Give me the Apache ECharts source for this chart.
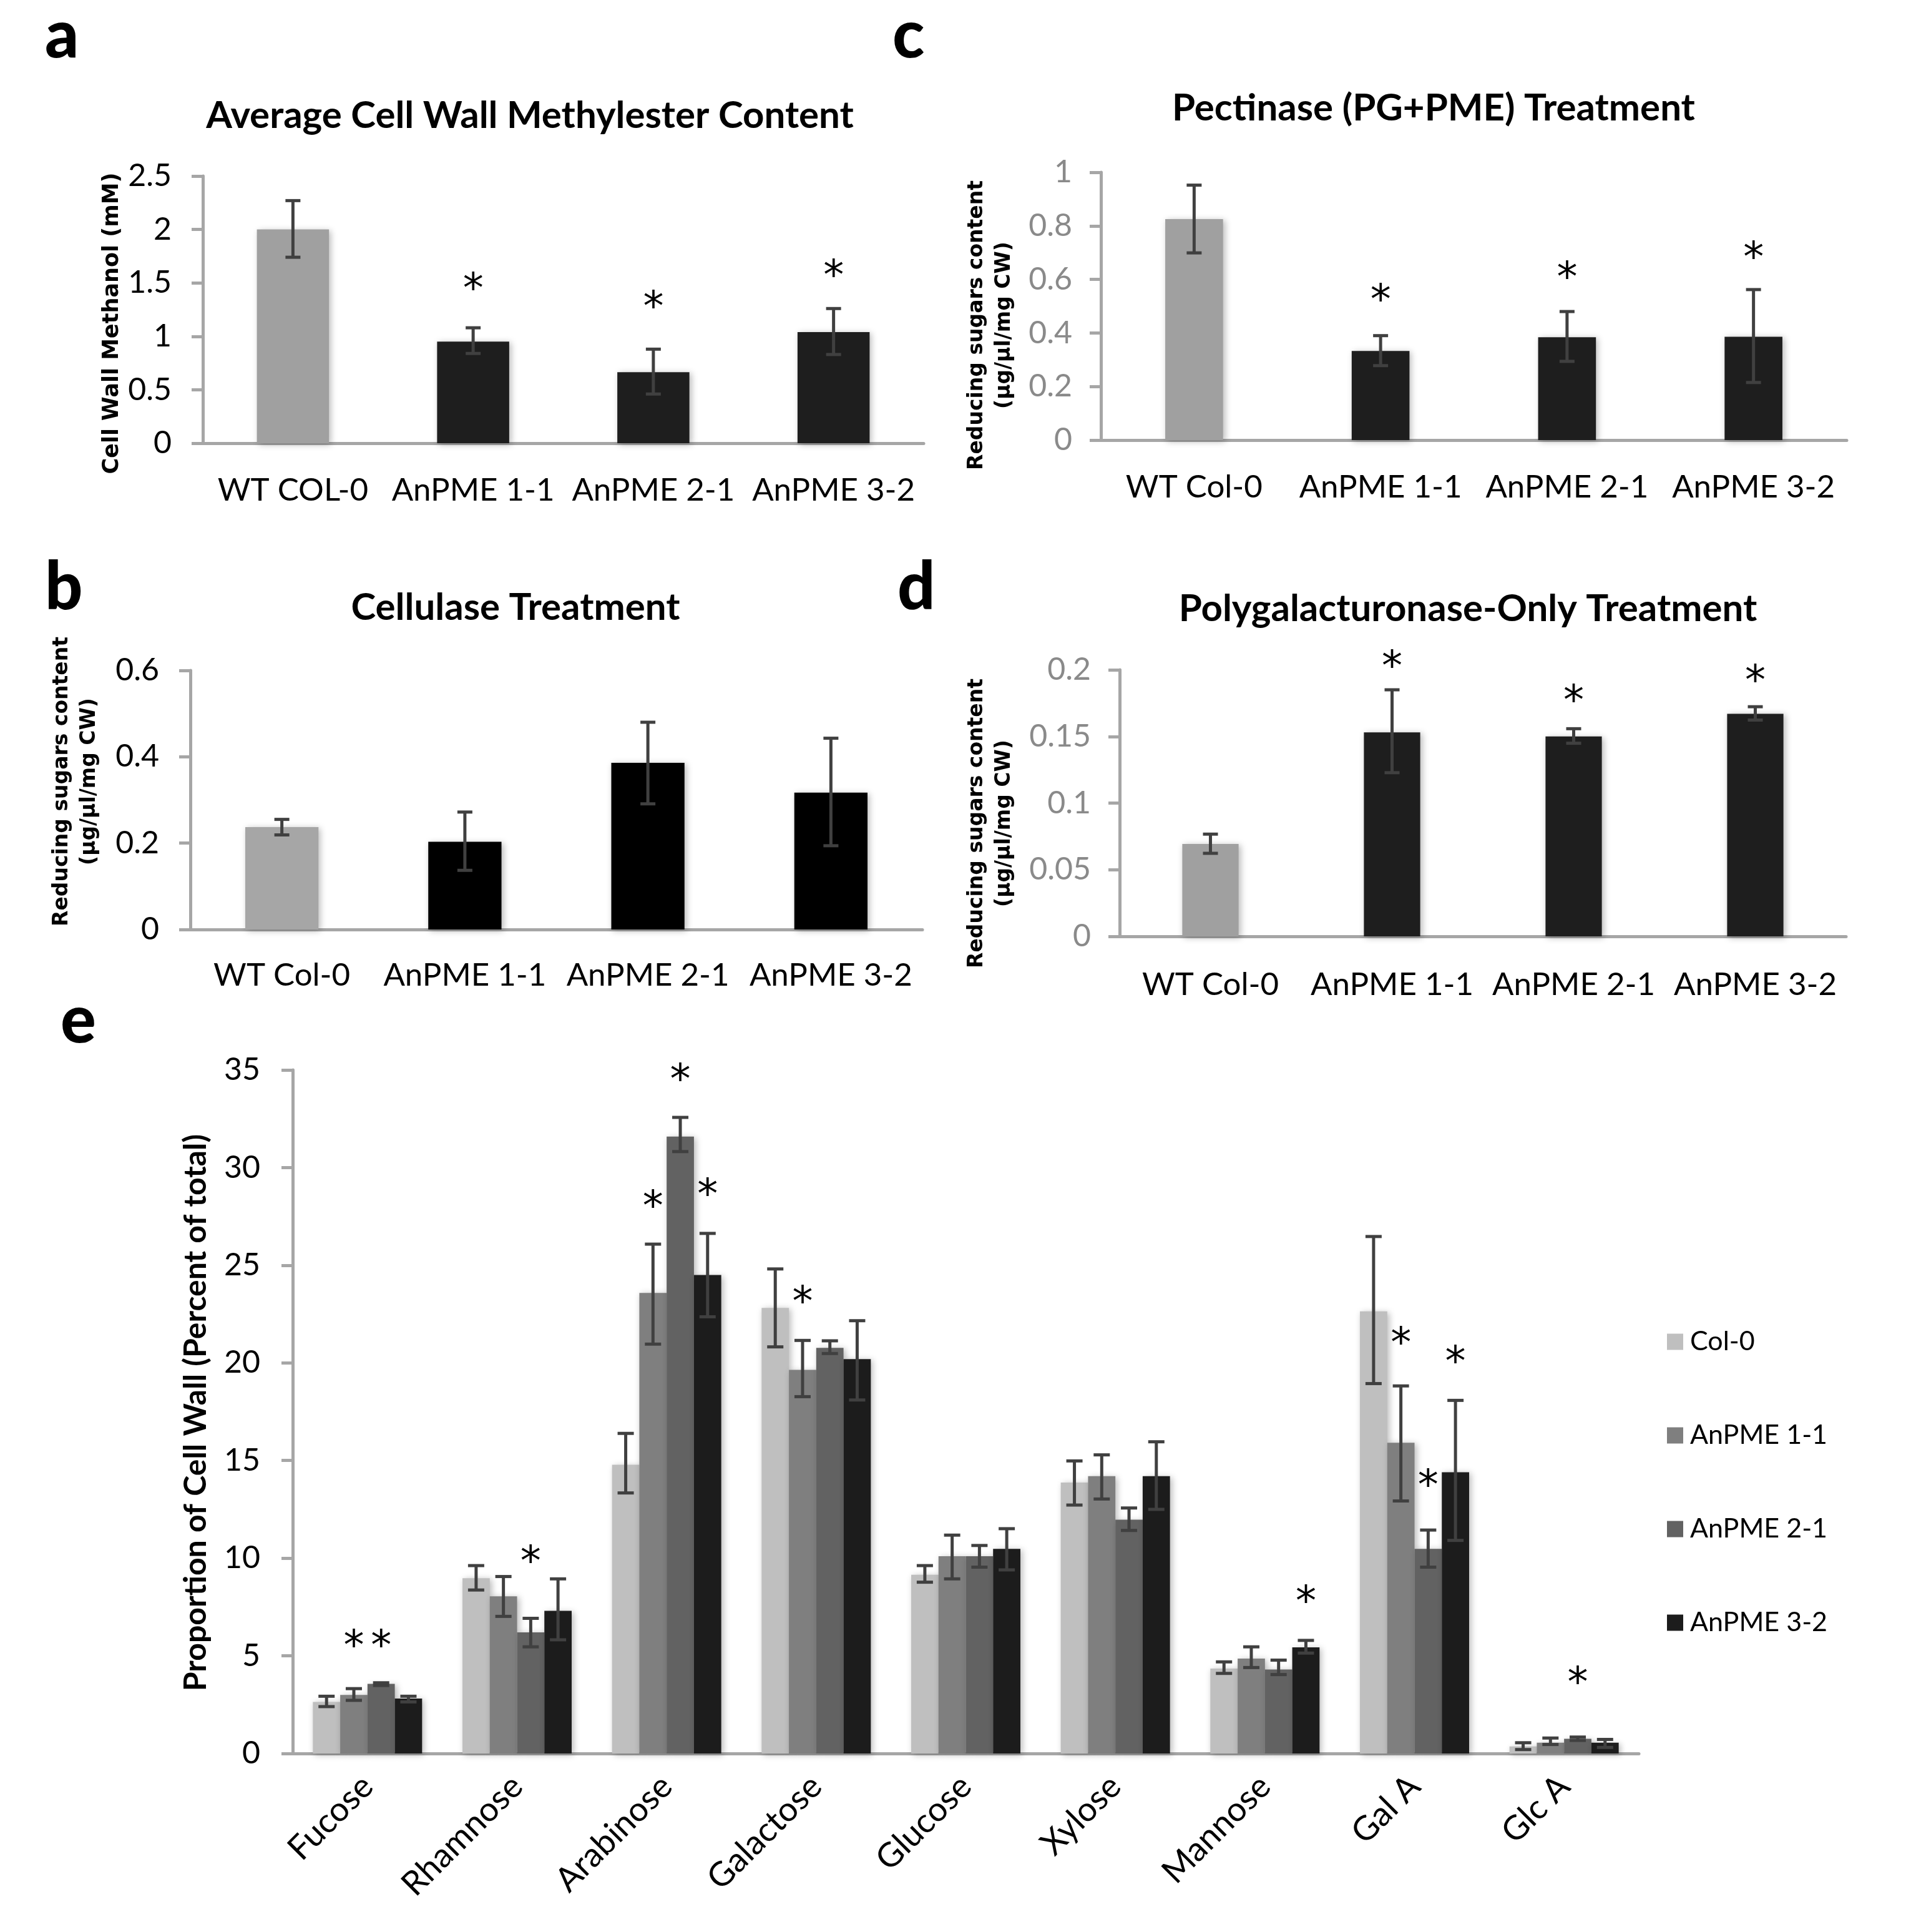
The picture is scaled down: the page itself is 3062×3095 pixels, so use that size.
<!DOCTYPE html>
<html>
<head>
<meta charset="utf-8">
<script src="https://cdn.jsdelivr.net/npm/echarts@6/dist/echarts.min.js"></script>
<style>
html,body{margin:0;padding:0;background:#fff;}
#chart{width:3062px;height:3095px;}
</style>
</head>
<body>
<div id="chart"></div>
<script>
// ---------- DATA ----------
// Panel a: Average Cell Wall Methylester Content
const catsA = ['WT COL-0', 'AnPME 1-1', 'AnPME 2-1', 'AnPME 3-2'];
const meanA = [2.0, 0.95, 0.665, 1.04];
const lowA  = [1.74, 0.84, 0.46, 0.83];
const highA = [2.27, 1.08, 0.88, 1.26];
const starA = [null, 1.5, 1.33, 1.62];

// Panel b: Cellulase Treatment
const catsB = ['WT Col-0', 'AnPME 1-1', 'AnPME 2-1', 'AnPME 3-2'];
const meanB = [0.237, 0.203, 0.386, 0.317];
const lowB  = [0.219, 0.137, 0.291, 0.194];
const highB = [0.255, 0.272, 0.48, 0.443];

// Panel c: Pectinase (PG+PME) Treatment
const catsC = ['WT Col-0', 'AnPME 1-1', 'AnPME 2-1', 'AnPME 3-2'];
const meanC = [0.825, 0.333, 0.384, 0.386];
const lowC  = [0.699, 0.278, 0.294, 0.215];
const highC = [0.952, 0.39, 0.48, 0.562];
const starC = [null, 0.544, 0.627, 0.702];

// Panel d: Polygalacturonase-Only Treatment
const catsD = ['WT Col-0', 'AnPME 1-1', 'AnPME 2-1', 'AnPME 3-2'];
const meanD = [0.0693, 0.153, 0.150, 0.167];
const lowD  = [0.0623, 0.1228, 0.1449, 0.1623];
const highD = [0.0767, 0.185, 0.1558, 0.1723];
const starD = [null, 0.2065, 0.181, 0.196];

// Panel e: monosaccharide composition
const sugars = ['Fucose', 'Rhamnose', 'Arabinose', 'Galactose', 'Glucose', 'Xylose', 'Mannose', 'Gal A', 'Glc A'];
const seriesNames = ['Col-0', 'AnPME 1-1', 'AnPME 2-1', 'AnPME 3-2'];
const col0   = [2.64, 8.97, 14.78, 22.81, 9.15, 13.87, 4.35, 22.64, 0.36];
const col0Lo = [2.40, 8.37, 13.34, 20.82, 8.77, 12.72, 4.10, 18.94, 0.20];
const col0Hi = [2.93, 9.62, 16.39, 24.81, 9.62, 14.98, 4.69, 26.47, 0.55];
const p11    = [3.00, 8.05, 23.58, 19.64, 10.10, 14.20, 4.86, 15.91, 0.55];
const p11Lo  = [2.72, 7.02, 20.96, 18.27, 8.94, 13.03, 4.40, 12.93, 0.46];
const p11Hi  = [3.32, 9.06, 26.08, 21.15, 11.18, 15.29, 5.46, 18.82, 0.79];
const p21    = [3.56, 6.20, 31.59, 20.77, 10.10, 11.97, 4.30, 10.48, 0.75];
const p21Lo  = [3.48, 5.46, 30.82, 20.48, 9.54, 11.42, 4.04, 9.54, 0.67];
const p21Hi  = [3.62, 6.92, 32.57, 21.13, 10.65, 12.57, 4.78, 11.44, 0.84];
const p32    = [2.81, 7.30, 24.50, 20.19, 10.48, 14.20, 5.43, 14.40, 0.55];
const p32Lo  = [2.64, 5.82, 22.36, 18.10, 9.40, 12.50, 5.14, 10.91, 0.31];
const p32Hi  = [2.93, 8.94, 26.63, 22.16, 11.51, 15.96, 5.79, 18.08, 0.72];
const star11 = [5.8, null, 28.3, 23.4, null, null, null, 21.3, null];
const star21 = [5.8, 10.1, 34.8, null, null, null, null, 14.0, 3.9];
const star32 = [null, null, 28.9, null, null, null, 8.06, 20.35, null];

// ---------- STYLE ----------
const AX = '#a6a6a6';
const ERR = '#404040';
const FONT = 'Lato';
const LBLFONT = 'DejaVu Sans';
const shadow = {shadowBlur: 10, shadowColor: 'rgba(0,0,0,0.28)', shadowOffsetX: 3, shadowOffsetY: 2};
const eColors = ['#bfbfbf', '#7f7f7f', '#626262', '#1c1c1c'];
const GAP_E = 0.27;

const chart = echarts.init(document.getElementById('chart'), null, {renderer: 'canvas'});

function mkX(gi, cats, fs, margin, rotate) {
  return {
    type: 'category', gridIndex: gi, data: cats,
    axisLine: {lineStyle: {color: AX, width: 5}},
    axisTick: {length: 18, lineStyle: {color: AX, width: 5}},
    axisLabel: {fontFamily: FONT, fontSize: fs, color: '#000', margin: margin, rotate: rotate || 0, interval: 0}
  };
}
function mkY(gi, max, interval, color, margin, fs) {
  return {
    type: 'value', gridIndex: gi, min: 0, max: max, interval: interval,
    axisLine: {show: true, lineStyle: {color: AX, width: 5}},
    axisTick: {show: true, length: 18, lineStyle: {color: AX, width: 5}},
    splitLine: {show: false},
    axisLabel: {fontFamily: FONT, fontSize: fs, color: color, margin: margin}
  };
}

function errRender(k, n, capHalf) {
  return function (params, api) {
    const i = api.value(0);
    let x = api.coord([i, 0])[0];
    if (n > 1) {
      const bw = api.size([1, 0])[0] * (1 - GAP_E) / n;
      x += (k - (n - 1) / 2) * bw;
    }
    const lo = api.coord([i, api.value(1)])[1];
    const hi = api.coord([i, api.value(2)])[1];
    const st = {stroke: ERR, lineWidth: 5};
    return {
      type: 'group',
      children: [
        {type: 'line', shape: {x1: x, y1: lo, x2: x, y2: hi}, style: st},
        {type: 'line', shape: {x1: x - capHalf, y1: lo, x2: x + capHalf, y2: lo}, style: st},
        {type: 'line', shape: {x1: x - capHalf, y1: hi, x2: x + capHalf, y2: hi}, style: st}
      ]
    };
  };
}
const STAR_FS = 66;
function starRender(k, n) {
  return function (params, api) {
    const i = api.value(0);
    let x = api.coord([i, 0])[0];
    if (n > 1) {
      const bw = api.size([1, 0])[0] * (1 - GAP_E) / n;
      x += (k - (n - 1) / 2) * bw;
    }
    const y = api.coord([i, api.value(1)])[1];
    return {
      type: 'text', x: x, y: y + STAR_FS * 0.2,
      style: {text: '*', fontFamily: LBLFONT, fontSize: STAR_FS, fill: '#000', align: 'center', verticalAlign: 'middle', textAlign: 'center', textVerticalAlign: 'middle'}
    };
  };
}
function starData(arr) {
  return arr.map((v, i) => [i, v]).filter(d => d[1] !== null);
}

const series = [];
function singlePanel(gi, mean, low, high, stars, wtColor, mutColor, bw) {
  series.push({
    type: 'bar', xAxisIndex: gi, yAxisIndex: gi, barWidth: bw,
    data: mean.map((v, i) => ({value: v, itemStyle: {color: i === 0 ? wtColor : mutColor}})),
    itemStyle: shadow
  });
  series.push({
    type: 'custom', xAxisIndex: gi, yAxisIndex: gi, z: 10,
    data: low.map((l, i) => [i, l, high[i]]),
    renderItem: errRender(0, 1, 12)
  });
  if (stars) {
    series.push({
      type: 'custom', xAxisIndex: gi, yAxisIndex: gi, z: 11, clip: false,
      data: starData(stars), renderItem: starRender(0, 1)
    });
  }
}
singlePanel(0, meanA, lowA, highA, starA, '#a0a0a0', '#1e1e1e', '40%');
singlePanel(1, meanB, lowB, highB, null, '#a6a6a6', '#000000', '40%');
singlePanel(2, meanC, lowC, highC, starC, '#a0a0a0', '#1e1e1e', '31%');
singlePanel(3, meanD, lowD, highD, starD, '#a0a0a0', '#1e1e1e', '31%');

const eMeans = [col0, p11, p21, p32];
const eLows = [col0Lo, p11Lo, p21Lo, p32Lo];
const eHighs = [col0Hi, p11Hi, p21Hi, p32Hi];
eMeans.forEach((m, k) => {
  series.push({
    type: 'bar', name: seriesNames[k], xAxisIndex: 4, yAxisIndex: 4,
    barGap: '0%', barCategoryGap: (GAP_E * 100) + '%',
    data: m, itemStyle: Object.assign({color: eColors[k]}, shadow)
  });
});
eMeans.forEach((m, k) => {
  series.push({
    type: 'custom', xAxisIndex: 4, yAxisIndex: 4, z: 10,
    data: eLows[k].map((l, i) => [i, l, eHighs[k][i]]),
    renderItem: errRender(k, 4, 13)
  });
});
[[star11, 1], [star21, 2], [star32, 3]].forEach(([arr, k]) => {
  series.push({
    type: 'custom', xAxisIndex: 4, yAxisIndex: 4, z: 11, clip: false,
    data: starData(arr), renderItem: starRender(k, 4)
  });
});

function gtext(txt, x, y, fs, weight, family, opts) {
  return Object.assign({
    type: 'text', x: x, y: y,
    style: Object.assign({text: txt, fontSize: fs, fontWeight: weight, fontFamily: family, fill: '#000',
      align: 'center', verticalAlign: 'middle', textAlign: 'center', textVerticalAlign: 'middle'}, (opts && opts.style) || {})
  }, (opts && opts.el) || {});
}
const ROT = Math.PI / 2;
const LEFT = {style: {align: 'left', textAlign: 'left'}};
const graphic = [
  // panel letters
  gtext('a', 72, 58, 106, 900, FONT, LEFT),
  gtext('c', 1430, 58, 106, 900, FONT, LEFT),
  gtext('b', 72, 942, 106, 900, FONT, LEFT),
  gtext('d', 1438, 942, 106, 900, FONT, LEFT),
  gtext('e', 97, 1636, 106, 900, FONT, LEFT),
  // titles
  gtext('Average Cell Wall Methylester Content', 849, 186, 60, 'bold', FONT),
  gtext('Pectinase (PG+PME) Treatment', 2297, 174, 60, 'bold', FONT),
  gtext('Cellulase Treatment', 826, 974, 60, 'bold', FONT),
  gtext('Polygalacturonase-Only Treatment', 2352, 976, 60, 'bold', FONT),
  // y axis names
  gtext('Cell Wall Methanol (mM)', 180, 518, 35, 'bold', LBLFONT, {el: {rotation: ROT}}),
  gtext('Reducing sugars content\n(µg/µl/mg CW)', 1587, 521, 33, 'bold', LBLFONT, {el: {rotation: ROT}, style: {lineHeight: 44}}),
  gtext('Reducing sugars content\n(µg/µl/mg CW)', 121, 1252, 33, 'bold', LBLFONT, {el: {rotation: ROT}, style: {lineHeight: 44}}),
  gtext('Reducing sugars content\n(µg/µl/mg CW)', 1587, 1319, 33, 'bold', LBLFONT, {el: {rotation: ROT}, style: {lineHeight: 44}}),
  gtext('Proportion of Cell Wall (Percent of total)', 314, 2263, 50, 'bold', FONT, {el: {rotation: ROT}})
];

const option = {
  backgroundColor: '#ffffff',
  animation: false,
  grid: [
    {left: 325, top: 282, width: 1155, height: 428},
    {left: 305, top: 1074, width: 1173, height: 415},
    {left: 1764, top: 276, width: 1195, height: 429},
    {left: 1794, top: 1073, width: 1164, height: 427},
    {left: 469, top: 1714, width: 2157, height: 1095}
  ],
  xAxis: [
    mkX(0, catsA, 51, 50),
    mkX(1, catsB, 51, 48),
    mkX(2, catsC, 51, 50),
    mkX(3, catsD, 51, 52),
    mkX(4, sugars, 54, 44, 45)
  ],
  yAxis: [
    mkY(0, 2.5, 0.5, '#000', 50, 50),
    mkY(1, 0.6, 0.2, '#000', 50, 50),
    mkY(2, 1, 0.2, '#8a8a8a', 46, 50),
    mkY(3, 0.2, 0.05, '#8a8a8a', 46, 50),
    mkY(4, 35, 5, '#000', 52, 50)
  ],
  legend: {
    orient: 'vertical', left: 2666, top: 2123,
    itemWidth: 26, itemHeight: 26, itemGap: 107, icon: 'rect',
    itemStyle: {shadowBlur: 0, shadowOffsetX: 0, shadowOffsetY: 0},
    textStyle: {fontFamily: FONT, fontSize: 43, color: '#000', padding: [0, 0, 0, 6]},
    data: seriesNames
  },
  series: series,
  graphic: graphic
};
chart.setOption(option);
</script>
</body>
</html>
